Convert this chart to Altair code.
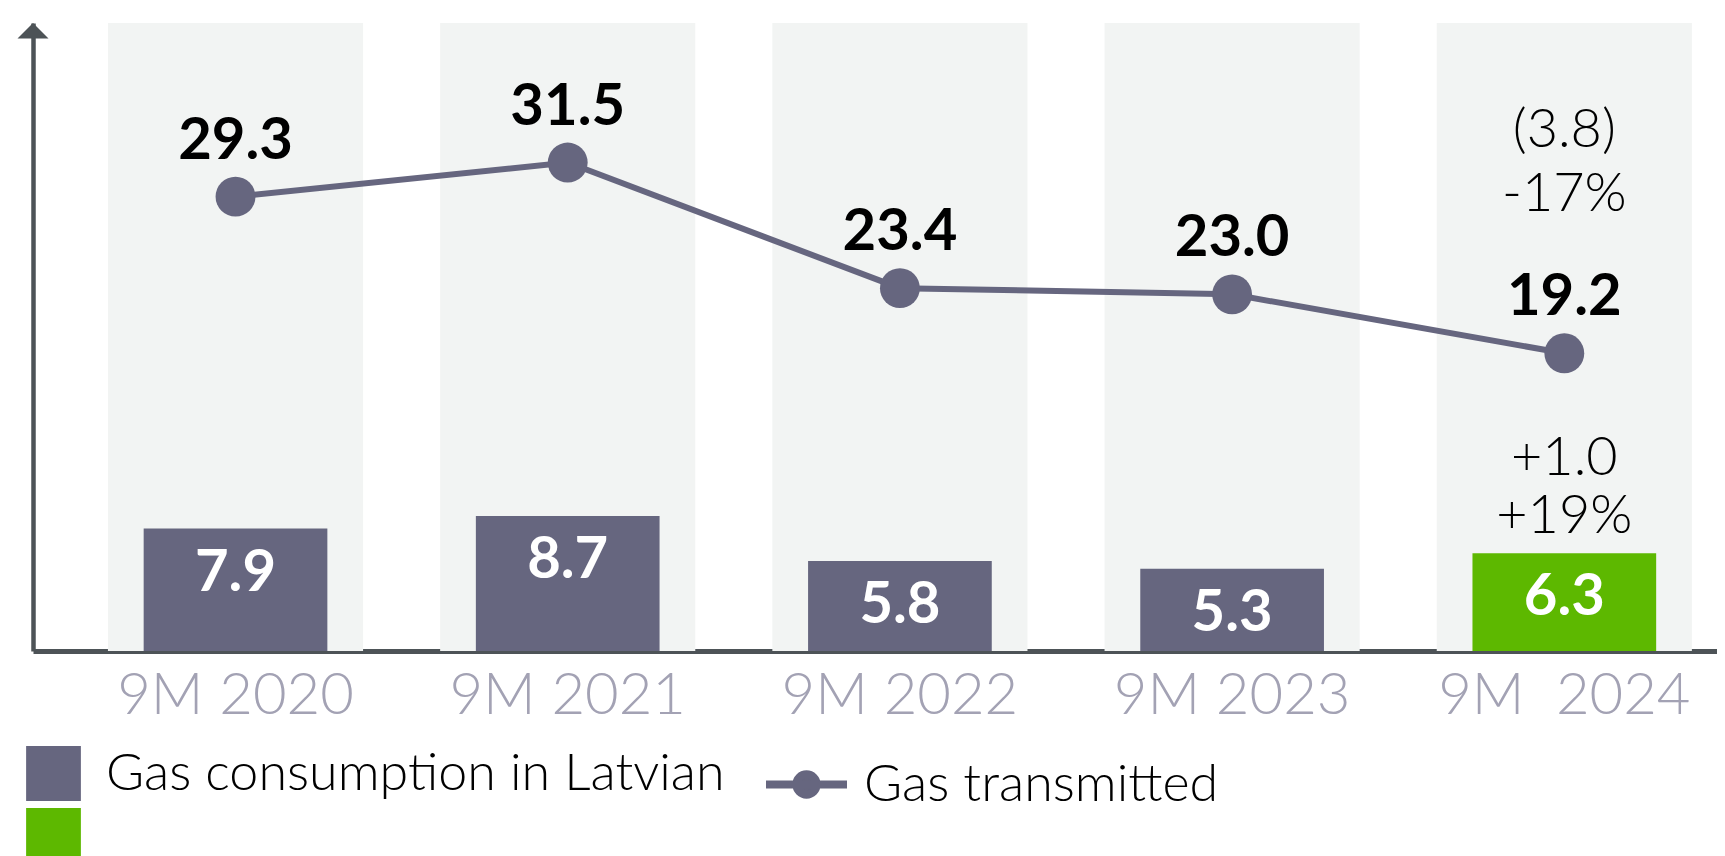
import altair as alt
import pandas as pd

# ---- data ----
categories = ["9M 2020", "9M 2021", "9M 2022", "9M 2023", "9M \u00a02024"]
consumption = [7.9, 8.7, 5.8, 5.3, 6.3]
transmitted = [29.3, 31.5, 23.4, 23.0, 19.2]
bar_series = ["Gas consumption in Latvian"] * 4 + ["2024"]
line_series = ["Gas transmitted"] * 5
transmitted_change = ["", "", "", "", "(3.8)\n-17%"]
consumption_change = ["", "", "", "", "+1.0\n+19%"]

df = pd.DataFrame({
    "cat": categories,
    "consumption": consumption,
    "transmitted": transmitted,
    "bar_series": bar_series,
    "line_series": line_series,
    "t_change": transmitted_change,
    "c_change": consumption_change,
})

PURPLE = "#66667f"
GREEN = "#5db800"
BG = "#f2f4f3"
AXIS = "#4d5357"
LABEL_GRAY = "#a3a2b4"
FONT = "Lato"
YMAX = 40.5

x = alt.X("cat:N", sort=categories, title=None,
          scale=alt.Scale(paddingInner=0.232, paddingOuter=0.1506, align=0.749),
          axis=alt.Axis(domainColor=AXIS, domainWidth=5, ticks=False,
                        labelAngle=0, labelFont=FONT, labelFontSize=58,
                        labelFontWeight=300, labelColor=LABEL_GRAY,
                        labelPadding=16, labelBaseline="top", grid=False,
                        labelLimit=0, labelOverlap=False))
yscale = alt.Scale(domain=[0, YMAX], nice=False, zero=True)
yaxis = alt.Axis(domainColor=AXIS, domainWidth=4.5, ticks=False, labels=False,
                 grid=False, title=None)

base = alt.Chart(df)

bg = base.mark_bar(color=BG).encode(
    x=x,
    y=alt.Y("ymax:Q", scale=yscale, axis=yaxis),
).transform_calculate(ymax=str(YMAX))

bars = base.mark_bar(width=alt.RelativeBandSize(0.72)).encode(
    x=x,
    y=alt.Y("consumption:Q", scale=yscale, axis=yaxis),
    color=alt.Color("bar_series:N",
                    scale=alt.Scale(domain=["Gas consumption in Latvian", "2024"],
                                    range=[PURPLE, GREEN]),
                    legend=alt.Legend(
                        title=None, orient="none", legendX=-7, legendY=723,
                        direction="vertical", symbolType="square",
                        symbolSize=3000, symbolStrokeWidth=0, symbolOpacity=1,
                        labelFont=FONT, labelFontSize=52, labelFontWeight=300,
                        labelColor="black", labelOffset=25, rowPadding=7,
                        padding=0, labelLimit=1000,
                        labelExpr="datum.value == '2024' ? '' : datum.label")),
)

bar_labels = base.mark_text(color="white", font=FONT, fontSize=58,
                            fontWeight="bold", baseline="alphabetic",
                            dy=62).encode(
    x=x,
    y=alt.Y("consumption:Q", scale=yscale, axis=yaxis),
    text=alt.Text("consumption:Q", format=".1f"),
)

line = base.mark_line(strokeWidth=6).encode(
    x=x,
    y=alt.Y("transmitted:Q", scale=yscale, axis=yaxis),
    stroke=alt.Stroke("line_series:N",
                      scale=alt.Scale(domain=["Gas transmitted"], range=[PURPLE]),
                      legend=alt.Legend(
                          title=None, orient="none", legendX=729, legendY=717,
                          symbolType="M-1,0L1,0M0.25,0A0.25,0.25,0,1,1,-0.25,0A0.25,0.25,0,1,1,0.25,0Z",
                          symbolSize=6561, symbolStrokeWidth=8,
                          symbolFillColor=PURPLE, symbolStrokeColor=PURPLE,
                          labelFont=FONT, labelFontSize=52, labelFontWeight=300,
                          labelColor="black", labelOffset=13, padding=0,
                          labelLimit=1000)),
)

points = base.mark_circle(size=1590, opacity=1, color=PURPLE).encode(
    x=x,
    y=alt.Y("transmitted:Q", scale=yscale, axis=yaxis),
)

line_labels = base.mark_text(color="black", font=FONT, fontSize=58,
                             fontWeight="bold", baseline="alphabetic",
                             dy=-38).encode(
    x=x,
    y=alt.Y("transmitted:Q", scale=yscale, axis=yaxis),
    text=alt.Text("transmitted:Q", format=".1f"),
)

t_ann = base.mark_text(color="black", font=FONT, fontSize=54, fontWeight=300,
                       baseline="alphabetic", lineBreak="\n", lineHeight=64,
                       dy=-206).encode(
    x=x,
    y=alt.Y("transmitted:Q", scale=yscale, axis=yaxis),
    text="t_change:N",
).transform_filter("datum.t_change != ''")

c_ann = base.mark_text(color="black", font=FONT, fontSize=54, fontWeight=300,
                       baseline="alphabetic", lineBreak="\n", lineHeight=58,
                       dy=-78).encode(
    x=x,
    y=alt.Y("consumption:Q", scale=yscale, axis=yaxis),
    text="c_change:N",
).transform_filter("datum.c_change != ''")

arrow = base.mark_point(shape="M-1,1L0,0L1,1Z", size=961, filled=True,
                        opacity=1, color=AXIS).encode(
    x=alt.value(0),
    y=alt.Y("ymax:Q", scale=yscale, axis=yaxis),
).transform_calculate(ymax=str(YMAX)).transform_filter("datum.cat == '9M 2020'")

chart = alt.layer(bg, bars, bar_labels, line, points, line_labels, t_ann, c_ann, arrow).properties(
    width=1684, height=628,
    padding={"left": 25, "top": 15, "right": 0, "bottom": 205},
    autosize=alt.AutoSizeParams(type="none"),
).resolve_scale(color="independent").configure_view(stroke=None)

chart.save("out.html", embed_options={"renderer": "svg", "actions": False})
